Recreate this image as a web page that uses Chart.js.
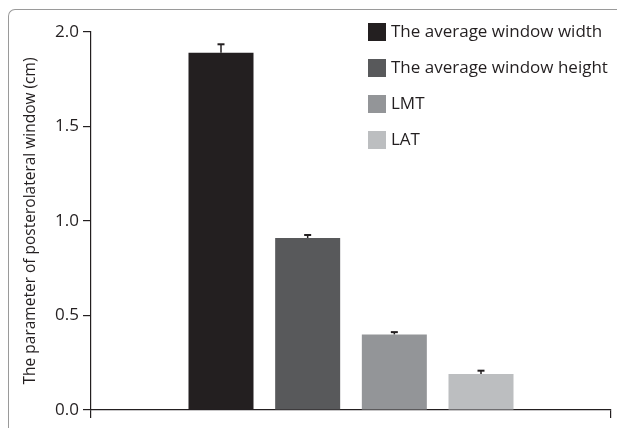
<!DOCTYPE html>
<html>
<head>
<meta charset="utf-8">
<script src="https://cdn.jsdelivr.net/npm/chart.js@4/dist/chart.umd.min.js"></script>
<style>
  html, body { margin: 0; padding: 0; background: #fff; overflow: hidden; }
  #wrap { position: relative; width: 617px; height: 428px; }
  #frame {
    position: absolute; left: 8px; top: 9px; width: 700px; height: 500px;
    border-top: 1px solid #9a9a9a; border-left: 1px solid #9a9a9a;
    border-top-left-radius: 7px; box-sizing: border-box; pointer-events: none;
  }
  canvas { position: absolute; left: 0; top: 0; }
</style>
</head>
<body>
<div id="wrap">
  <div id="frame"></div>
  <canvas id="chart" width="617" height="428"></canvas>
</div>
<script>
// Slots along the x axis: an empty slot on each side of the four bars
const slots = ['', 'width', 'height', 'LMT', 'LAT', ''];
const seriesNames = ['The average window width', 'The average window height', 'LMT', 'LAT'];
const means = [1.89, 0.91, 0.40, 0.19];
const errors = [0.045, 0.016, 0.012, 0.018];
const barColors = ['#231f20', '#58595b', '#939598', '#bcbec0'];
const yTicks = [0, 0.5, 1.0, 1.5, 2.0];

const ink = '#231f20';
const fontFamily = '"Open Sans", "Noto Sans", sans-serif';

const datasets = seriesNames.map((name, i) => ({
  label: name,
  data: slots.map((_, j) => (j === i + 1 ? means[i] : null)),
  backgroundColor: barColors[i],
  errors: slots.map((_, j) => (j === i + 1 ? errors[i] : null)),
  skipNull: true,
  categoryPercentage: 1,
  barPercentage: 0.75
}));

// Upward error bars with a small cap
const errorBars = {
  id: 'errorBars',
  afterDatasetsDraw(chart) {
    const { ctx } = chart;
    const y = chart.scales.y;
    ctx.save();
    ctx.strokeStyle = ink;
    chart.data.datasets.forEach((ds, di) => {
      const meta = chart.getDatasetMeta(di);
      meta.data.forEach((el, idx) => {
        const v = ds.data[idx];
        const e = ds.errors[idx];
        if (v == null || e == null) return;
        const top = y.getPixelForValue(v + e);
        ctx.lineWidth = 1.5;
        ctx.beginPath();
        ctx.moveTo(el.x, el.y);
        ctx.lineTo(el.x, top);
        ctx.stroke();
        ctx.lineWidth = 2;
        ctx.beginPath();
        ctx.moveTo(el.x - 3.5, top);
        ctx.lineTo(el.x + 3.5, top);
        ctx.stroke();
      });
    });
    ctx.restore();
  }
};

// Legend drawn inside the plot, top right, one entry per dataset
const innerLegend = {
  id: 'innerLegend',
  afterDraw(chart) {
    const { ctx } = chart;
    const x0 = 368, y0 = 23, box = 18, step = 36;
    ctx.save();
    ctx.font = '17px ' + fontFamily;
    ctx.textBaseline = 'middle';
    ctx.textAlign = 'left';
    chart.data.datasets.forEach((ds, i) => {
      const yy = y0 + i * step;
      ctx.fillStyle = ds.backgroundColor;
      ctx.fillRect(x0, yy, box, box);
      ctx.fillStyle = ink;
      ctx.fillText(ds.label, x0 + box + 5, yy + box / 2 + 0.5);
    });
    ctx.restore();
  }
};

new Chart(document.getElementById('chart'), {
  type: 'bar',
  data: { labels: slots, datasets },
  options: {
    responsive: false,
    animation: false,
    devicePixelRatio: 1,
    layout: { padding: { top: 32, right: 6, left: 0, bottom: 0 } },
    plugins: { legend: { display: false }, tooltip: { enabled: false } },
    scales: {
      x: {
        type: 'category',
        offset: true,
        afterFit(scale) { scale.height = 18; },
        ticks: { display: false },
        grid: {
          offset: true,
          drawOnChartArea: false,
          drawTicks: true,
          tickLength: 8,
          lineWidth: 1.2,
          color: (c) => (c.type === 'tick' && c.index > 0 ? 'rgba(0,0,0,0)' : ink)
        },
        border: { display: true, color: ink, width: 1.2 }
      },
      y: {
        min: 0,
        max: 2,
        afterFit(scale) { scale.width = 91; },
        afterBuildTicks(scale) { scale.ticks = yTicks.map(v => ({ value: v })); },
        ticks: {
          padding: 4,
          color: ink,
          font: { family: fontFamily, size: 17 },
          callback: (v) => Number(v).toFixed(1)
        },
        grid: {
          drawOnChartArea: false,
          drawTicks: true,
          tickLength: 8,
          color: ink,
          lineWidth: 1.2
        },
        border: { display: true, color: ink, width: 1.2 },
        title: {
          display: true,
          text: 'The parameter of posterolateral window (cm)',
          color: ink,
          font: { family: fontFamily, size: 15.5 },
          padding: { top: 21, bottom: 0 }
        }
      }
    }
  },
  plugins: [errorBars, innerLegend]
});
</script>
</body>
</html>
